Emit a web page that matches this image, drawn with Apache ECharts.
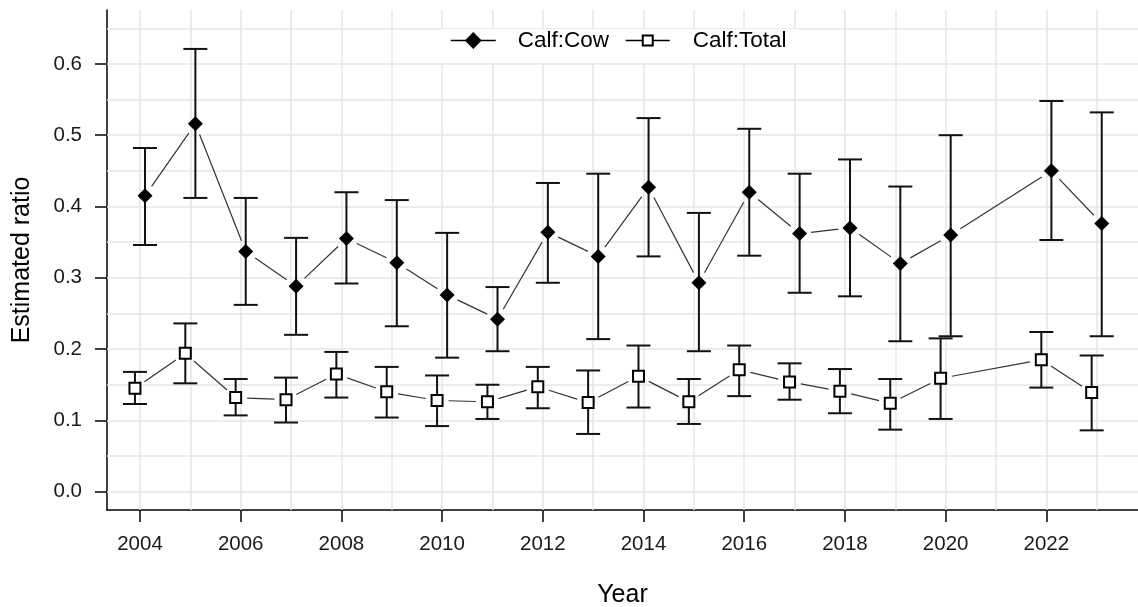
<!DOCTYPE html>
<html>
<head>
<meta charset="utf-8">
<script src="https://cdn.jsdelivr.net/npm/echarts@6/dist/echarts.min.js"></script>
<style>html,body{margin:0;padding:0;background:#fff;}#c{width:1138px;height:607px;}</style>
</head>
<body>
<div id="c"></div>
<script>
const years  = [2004,2005,2006,2007,2008,2009,2010,2011,2012,2013,2014,2015,2016,2017,2018,2019,2020,2022,2023];
const cowEst = [0.415,0.516,0.337,0.288,0.355,0.321,0.276,0.242,0.364,0.330,0.427,0.293,0.420,0.362,0.370,0.320,0.360,0.450,0.376];
const cowLo  = [0.346,0.412,0.262,0.220,0.292,0.232,0.188,0.197,0.293,0.214,0.330,0.197,0.331,0.279,0.274,0.211,0.218,0.353,0.218];
const cowHi  = [0.482,0.621,0.412,0.356,0.420,0.409,0.363,0.287,0.433,0.446,0.524,0.391,0.509,0.446,0.466,0.428,0.500,0.548,0.532];
const totEst = [0.145,0.194,0.132,0.129,0.165,0.140,0.128,0.126,0.147,0.125,0.162,0.126,0.171,0.154,0.141,0.124,0.159,0.185,0.139];
const totLo  = [0.123,0.152,0.107,0.097,0.132,0.104,0.092,0.102,0.117,0.081,0.118,0.095,0.134,0.129,0.110,0.087,0.102,0.146,0.086];
const totHi  = [0.168,0.236,0.158,0.160,0.196,0.175,0.163,0.150,0.175,0.170,0.205,0.158,0.205,0.180,0.172,0.158,0.215,0.224,0.191];

const xTickValues = [2004,2006,2008,2010,2012,2014,2016,2018,2020,2022];
const yTickValues = [0,0.1,0.2,0.3,0.4,0.5,0.6];
const xGridValues = [2004,2005,2006,2007,2008,2009,2010,2011,2012,2013,2014,2015,2016,2017,2018,2019,2020,2021,2022,2023];
const yGridValues = [0,0.05,0.1,0.15,0.2,0.25,0.3,0.35,0.4,0.45,0.5,0.55,0.6,0.65];

const DODGE = 0.1;
const FONT = '"Liberation Sans", Arial, sans-serif';

function pts(est, off) { return years.map((y, i) => [y + off, est[i]]); }
function segs(est, off) {
  const p = pts(est, off), out = [];
  for (let i = 0; i < p.length - 1; i++) out.push([p[i][0], p[i][1], p[i+1][0], p[i+1][1]]);
  return out;
}
function bars(lo, hi, off) { return years.map((y, i) => [y + off, lo[i], hi[i]]); }

function renderSeg(params, api) {
  const a = api.coord([api.value(0), api.value(1)]);
  const b = api.coord([api.value(2), api.value(3)]);
  const dx = b[0] - a[0], dy = b[1] - a[1], L = Math.hypot(dx, dy), g = 11.5;
  if (L <= 2 * g) return null;
  const ux = dx / L, uy = dy / L;
  return { type: 'line', shape: { x1: a[0] + ux * g, y1: a[1] + uy * g, x2: b[0] - ux * g, y2: b[1] - uy * g },
           style: { stroke: '#333', lineWidth: 1.2 } };
}
function renderBar(params, api) {
  const lo = api.coord([api.value(0), api.value(1)]);
  const hi = api.coord([api.value(0), api.value(2)]);
  const w = 12, st = { stroke: '#111', lineWidth: 2 };
  return { type: 'group', children: [
    { type: 'line', shape: { x1: lo[0], y1: lo[1], x2: hi[0], y2: hi[1] }, style: st },
    { type: 'line', shape: { x1: lo[0] - w, y1: lo[1], x2: lo[0] + w, y2: lo[1] }, style: st },
    { type: 'line', shape: { x1: hi[0] - w, y1: hi[1], x2: hi[0] + w, y2: hi[1] }, style: st }
  ]};
}

const gridLineStyle = { color: '#e6e6e6', width: 1.5, type: 'solid' };
const legendLine = { color: '#000', width: 1.5, opacity: 1, type: 'solid' };

const option = {
  animation: false,
  backgroundColor: '#fff',
  grid: { left: 107, right: 0, top: 10, bottom: 97, outerBoundsMode: 'none' },
  legend: [
    { data: [{ name: 'Calf:Cow', lineStyle: legendLine }], left: 440, top: 29, itemWidth: 45, itemHeight: 21,
      padding: [0, 6, 11, 10], backgroundColor: '#fff', selectedMode: false,
      textStyle: { fontFamily: FONT, fontSize: 22.5, color: '#000', padding: [0, 0, 0, 17] } },
    { data: [{ name: 'Calf:Total', lineStyle: legendLine }], left: 615, top: 29, itemWidth: 44, itemHeight: 12.5,
      padding: [0, 12, 11, 10], backgroundColor: '#fff', selectedMode: false,
      textStyle: { fontFamily: FONT, fontSize: 22.5, color: '#000', padding: [0, 0, 0, 18] } }
  ],
  xAxis: {
    type: 'value', min: 2003.345, max: 2023.82,
    name: 'Year', nameLocation: 'middle', nameGap: 73,
    nameTextStyle: { fontFamily: FONT, fontSize: 25, color: '#000' },
    axisLine: { show: true, onZero: false, lineStyle: { color: '#000', width: 1.5 } },
    axisTick: { show: true, length: 12, customValues: xTickValues, lineStyle: { color: '#000', width: 1.5 } },
    axisLabel: { customValues: xTickValues, margin: 24, fontFamily: FONT, fontSize: 20.5, color: '#1a1a1a',
                 formatter: v => String(v) },
    splitLine: { show: false }
  },
  yAxis: {
    type: 'value', min: -0.0257, max: 0.6756,
    name: 'Estimated ratio', nameLocation: 'middle', nameRotate: 90, nameGap: 72,
    nameTextStyle: { fontFamily: FONT, fontSize: 25, color: '#000' },
    axisLine: { show: true, onZero: false, lineStyle: { color: '#000', width: 1.5 } },
    axisTick: { show: true, length: 12, customValues: yTickValues, lineStyle: { color: '#000', width: 1.5 } },
    axisLabel: { customValues: yTickValues, margin: 25, fontFamily: FONT, fontSize: 20.5, color: '#1a1a1a',
                 formatter: v => v.toFixed(1) },
    splitLine: { show: false }
  },
  series: [
    { type: 'custom', name: 'grid', silent: true, z: 1, renderItem: () => null, data: [],
      markLine: { silent: true, symbol: ['none', 'none'], z: 1, label: { show: false }, lineStyle: gridLineStyle,
                  emphasis: { disabled: true },
                  data: yGridValues.map(v => ({ yAxis: v })).concat(xGridValues.map(v => ({ xAxis: v }))) } },
    { type: 'custom', name: 'cowLine', silent: true, z: 2, renderItem: renderSeg, data: segs(cowEst, DODGE),
      encode: { x: [0, 2], y: [1, 3] } },
    { type: 'custom', name: 'totLine', silent: true, z: 2, renderItem: renderSeg, data: segs(totEst, -DODGE),
      encode: { x: [0, 2], y: [1, 3] } },
    { type: 'custom', name: 'cowBar', silent: true, z: 3, renderItem: renderBar, data: bars(cowLo, cowHi, DODGE),
      encode: { x: 0, y: [1, 2] } },
    { type: 'custom', name: 'totBar', silent: true, z: 3, renderItem: renderBar, data: bars(totLo, totHi, -DODGE),
      encode: { x: 0, y: [1, 2] } },
    { type: 'line', name: 'Calf:Cow', z: 4, data: pts(cowEst, DODGE), symbol: 'diamond', symbolSize: 15,
      showSymbol: true, itemStyle: { color: '#000' }, lineStyle: { width: 0, opacity: 0 }, emphasis: { disabled: true } },
    { type: 'line', name: 'Calf:Total', z: 4, data: pts(totEst, -DODGE), symbol: 'rect', symbolSize: 11,
      showSymbol: true, itemStyle: { color: '#fff', borderColor: '#000', borderWidth: 2 },
      lineStyle: { width: 0, opacity: 0 }, emphasis: { disabled: true } }
  ]
};
echarts.init(document.getElementById('c')).setOption(option);
</script>
</body>
</html>
